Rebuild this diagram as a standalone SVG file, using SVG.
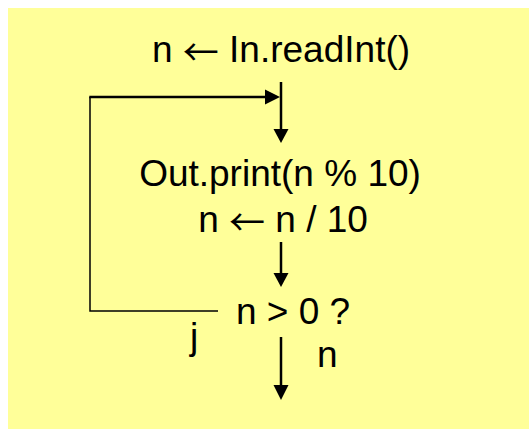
<svg xmlns="http://www.w3.org/2000/svg" width="529" height="429" viewBox="0 0 529 429">
  <style>
    .t { font-family: "Liberation Sans", Arial, sans-serif; font-size: 37px; fill: #000; }
    .m { text-anchor: middle; }
    .arr { font-family: "Noto Sans CJK JP", "DejaVu Sans", sans-serif; font-size: 36px; }
    .thick { stroke: #000; stroke-width: 2.5; fill: none; }
    .thin { stroke: #000; stroke-width: 1.5; fill: none; }
    .head { fill: #000; stroke: none; }
  </style>
  <rect x="0" y="0" width="529" height="429" fill="#ffffff"/>
  <rect x="8" y="8" width="521" height="421" fill="#ffff99"/>

  <g id="start">
    <text class="t m" x="281" y="62">n <tspan class="arr" dy="4">←</tspan><tspan dy="-4"> In.readInt()</tspan></text>
  </g>
  <g id="body">
    <text class="t m" x="280" y="186">Out.print(n % 10)</text>
    <text class="t m" x="283" y="232">n <tspan class="arr" dy="4">←</tspan><tspan dy="-4"> n / 10</tspan></text>
  </g>
  <g id="decision">
    <text class="t" x="236" y="324">n &gt; 0 ?</text>
  </g>
  <g id="label-j">
    <text class="t" x="190" y="349">j</text>
  </g>
  <g id="label-n">
    <text class="t" x="317" y="367">n</text>
  </g>

  <g id="connectors">
    <line class="thick" x1="281" y1="82" x2="281" y2="130"/>
    <polygon class="head" points="273.5,129 288.5,129 281,143"/>
    <line class="thick" x1="281" y1="242" x2="281" y2="274"/>
    <polygon class="head" points="273.5,273 288.5,273 281,287"/>
    <line class="thick" x1="281" y1="337" x2="281" y2="386"/>
    <polygon class="head" points="273.5,385 288.5,385 281,400"/>
    <polyline class="thin" points="218,311 90,311 90,97"/>
    <line class="thick" x1="89.3" y1="97" x2="266" y2="97"/>
    <polygon class="head" points="265,89.5 265,104.5 280,97"/>
  </g>
</svg>
